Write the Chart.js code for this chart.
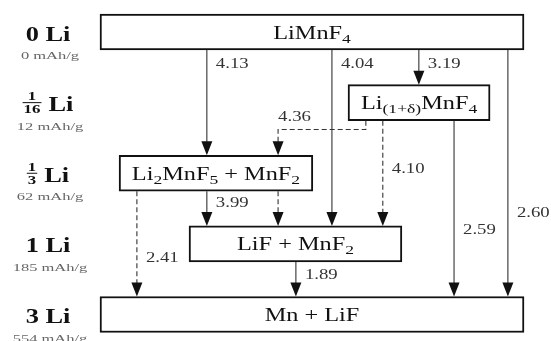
<!DOCTYPE html>
<html><head><meta charset="utf-8">
<script src="https://cdn.jsdelivr.net/npm/chart.js@4"></script>
<style>html,body{margin:0;padding:0;background:#fff}#wrap{width:551px;height:341px;position:relative}</style>
</head><body><div id="wrap"><canvas id="c"></canvas></div>
<script>
// ---------- data ----------
const levels = ['0', '1/16', '1/3', '1', '3'];      // Li inserted
const capacities = [0, 12, 62, 185, 554];           // mAh/g
const phases = ['LiMnF_4', 'Li_{(1+δ)}MnF_4', 'Li_2MnF_5 + MnF_2', 'LiF + MnF_2', 'Mn + LiF'];
const phaseLevel = [0, 1, 2, 3, 4];
// transitions (from phase -> to phase, voltage in V)
const transFrom = [0, 0, 0, 0, 1, 1, 1, 2, 2, 2, 3];
const transTo   = [2, 3, 1, 4, 4, 2, 3, 3, 3, 4, 4];
const voltages  = [4.13, 4.04, 3.19, 2.60, 2.59, 4.36, 4.10, 3.99, null, 2.41, 1.89];
const dashed    = [0, 0, 0, 0, 0, 1, 1, 0, 1, 1, 0];

// ---------- layout (horizontal units 0-100, vertical in level units) ----------
const phaseSpan  = [[0, 100], [58.5, 92], [4.5, 50.2], [21, 71.2], [0, 100]];
const transX     = [25.2, 54.7, 75.2, 96.2, 83.5, 62.7, 66.7, 25.2, 42.0, 8.7, 46.2];
const transX2    = [null, null, null, null, null, 42.0, null, null, null, null, null];
const bendLevel  = [null, null, null, null, null, 1.38, null, null, null, null, null];
const labelLevel = [0.44, 0.44, 0.44, 2.55, 2.79, 1.19, 1.93, 2.41, null, 3.19, 3.43];

const BOX_H = 36, SERIF = '"Liberation Serif", "DejaVu Serif", serif';

function stretchText(ctx, s, x, y, font, sx, align, color) {
  ctx.save();
  ctx.font = font; ctx.fillStyle = color; ctx.textBaseline = 'alphabetic'; ctx.textAlign = 'left';
  const w = ctx.measureText(s).width * sx;
  const left = align === 'center' ? x - w / 2 : align === 'right' ? x - w : x;
  ctx.translate(left, y); ctx.scale(sx, 1); ctx.fillText(s, 0, 0);
  ctx.restore();
  return w;
}
function parseRich(s) {
  const out = []; let i = 0, buf = '';
  while (i < s.length) {
    if (s[i] === '_') {
      if (buf) { out.push([buf, 0]); buf = ''; }
      i++;
      if (s[i] === '{') { const j = s.indexOf('}', i); out.push([s.slice(i + 1, j), 1]); i = j + 1; }
      else { out.push([s[i], 1]); i++; }
    } else { buf += s[i]; i++; }
  }
  if (buf) out.push([buf, 0]);
  return out;
}
function drawRich(ctx, s, cx, base) {
  const segs = parseRich(s), sx = 1.35;
  const fMain = '18px ' + SERIF, fSub = '13px ' + SERIF;
  let total = 0;
  segs.forEach(([t, sub]) => { ctx.font = sub ? fSub : fMain; total += ctx.measureText(t).width * sx; });
  let xx = cx - total / 2;
  segs.forEach(([t, sub]) => {
    xx += stretchText(ctx, t, xx, base + (sub ? 4 : 0), sub ? fSub : fMain, sx, 'left', '#111');
  });
}

const diagram = {
  id: 'diagram',
  afterDatasetsDraw(chart) {
    const { ctx, scales: { x, y } } = chart;
    const half = BOX_H / 2;
    // phase names in boxes
    chart.getDatasetMeta(0).data.forEach((bar, i) => {
      const p = bar.getProps(['x', 'y', 'base'], true);
      drawRich(ctx, phases[i], (p.x + p.base) / 2, p.y + 6.5);
    });
    // transition arrows
    const AL = 14, AW = 5.5;
    for (let i = 0; i < transFrom.length; i++) {
      const x0 = x.getPixelForValue(transX[i]);
      const ys = y.getPixelForValue(phaseLevel[transFrom[i]]) + half;
      const ye = y.getPixelForValue(phaseLevel[transTo[i]]) - half;
      let xe = x0;
      ctx.save();
      ctx.strokeStyle = '#333'; ctx.lineWidth = 1.1;
      ctx.setLineDash(dashed[i] ? [5, 3] : []);
      ctx.beginPath();
      ctx.moveTo(x0, ys);
      if (bendLevel[i] !== null) {
        const yb = y.getPixelForValue(bendLevel[i]);
        xe = x.getPixelForValue(transX2[i]);
        ctx.lineTo(x0, yb); ctx.lineTo(xe, yb);
      }
      ctx.lineTo(xe, ye - AL + 1);
      ctx.stroke();
      ctx.setLineDash([]);
      ctx.fillStyle = '#111';
      ctx.beginPath();
      ctx.moveTo(xe, ye); ctx.lineTo(xe - AW, ye - AL); ctx.lineTo(xe + AW, ye - AL); ctx.closePath();
      ctx.fill();
      ctx.restore();
      if (voltages[i] !== null) {
        const lx = bendLevel[i] !== null ? xe : x0 + 9;
        const ly = y.getPixelForValue(labelLevel[i]) + 5;
        stretchText(ctx, voltages[i].toFixed(2), lx, ly, '15px ' + SERIF, 1.25, 'left', '#333');
      }
    }
    // level labels on the left
    const cx = 48;
    levels.forEach((lv, i) => {
      const ry = y.getPixelForValue(i);
      const base = ry + 8.5;
      const fBold = 'bold 22px ' + SERIF, sx = 1.2;
      if (lv.includes('/')) {
        const [num, den] = lv.split('/');
        const fF = 'bold 13px ' + SERIF;
        ctx.font = fF;
        const fw = Math.max(ctx.measureText(num).width, ctx.measureText(den).width) * 1.3 + 2;
        ctx.font = fBold;
        const lw = ctx.measureText('Li').width * sx;
        const gap = 7;
        const left = cx - (fw + gap + lw) / 2;
        const bar = base - 9;
        stretchText(ctx, num, left + fw / 2, bar - 2, fF, 1.3, 'center', '#111');
        stretchText(ctx, den, left + fw / 2, bar + 11, fF, 1.3, 'center', '#111');
        ctx.save(); ctx.strokeStyle = '#111'; ctx.lineWidth = 1;
        ctx.beginPath(); ctx.moveTo(left, bar + 0.5); ctx.lineTo(left + fw, bar + 0.5); ctx.stroke(); ctx.restore();
        stretchText(ctx, 'Li', left + fw + gap, base, fBold, sx, 'left', '#111');
      } else {
        stretchText(ctx, lv + ' Li', cx, base, fBold, sx, 'center', '#111');
      }
      stretchText(ctx, capacities[i] + ' mAh/g', cx + 2, ry + 27, '11px ' + SERIF, 1.5, 'center', '#666');
    });
  }
};

new Chart(document.getElementById('c'), {
  type: 'bar',
  data: {
    datasets: [{
      data: phaseLevel.map((l, i) => ({ y: l, x: phaseSpan[i] })),
      backgroundColor: '#fff', borderColor: '#111', borderWidth: 2, borderSkipped: false,
      barThickness: BOX_H, clip: false, grouped: false
    }]
  },
  options: {
    indexAxis: 'y', responsive: true, maintainAspectRatio: false, animation: false, devicePixelRatio: 1,
    layout: { padding: { left: 100, right: 27, top: 32, bottom: 26.5 } },
    scales: {
      x: { type: 'linear', min: 0, max: 100, display: false, offset: false },
      y: { type: 'linear', min: 0, max: 4, reverse: true, display: false, offset: false }
    },
    plugins: { legend: { display: false }, tooltip: { enabled: false } },
    events: []
  },
  plugins: [diagram]
});
</script></body></html>
